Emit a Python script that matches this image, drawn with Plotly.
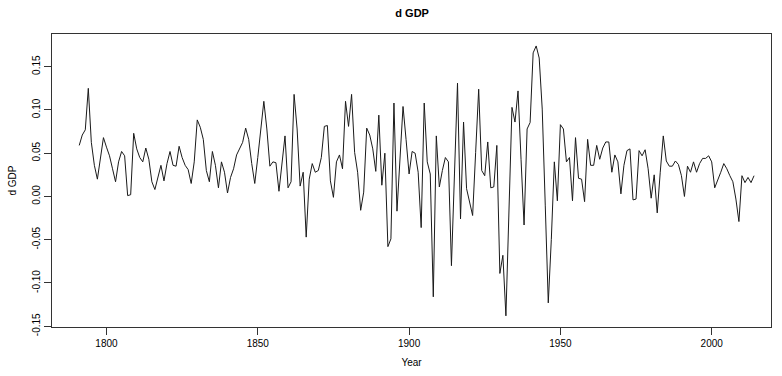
import plotly.graph_objects as go

first_year = 1791
last_year = 2014
years = list(range(first_year, last_year + 1))

d_gdp = [
    # 1791-1814
    0.059, 0.071, 0.077, 0.125, 0.0625, 0.036, 0.020, 0.043, 0.068, 0.057, 0.047, 0.032,
    0.017, 0.040, 0.052, 0.047, 0.001, 0.002, 0.073, 0.055, 0.045, 0.040, 0.056, 0.043,
    # 1815-1840
    0.017, 0.008, 0.024, 0.036, 0.018, 0.038, 0.052, 0.036, 0.035, 0.058, 0.045, 0.036, 0.031,
    0.015, 0.040, 0.0885, 0.080, 0.066, 0.030, 0.017, 0.052, 0.036, 0.010, 0.040, 0.028, 0.004,
    # 1841-1866
    0.022, 0.032, 0.048, 0.056, 0.0625, 0.079, 0.066, 0.038, 0.015, 0.045, 0.080, 0.110, 0.078,
    0.035, 0.040, 0.039, 0.006, 0.040, 0.070, 0.010, 0.017, 0.118, 0.078, 0.012, 0.028, -0.047,
    # 1867-1892
    0.020, 0.038, 0.028, 0.030, 0.045, 0.081, 0.082, 0.018, -0.001, 0.040, 0.048, 0.032, 0.110,
    0.081, 0.118, 0.051, 0.028, -0.016, 0.005, 0.079, 0.071, 0.055, 0.029, 0.094, 0.013, 0.050,
    # 1893-1918
    -0.058, -0.049, 0.108, -0.017, 0.043, 0.104, 0.066, 0.026, 0.052, 0.050, 0.028, -0.036, 0.108,
    0.040, 0.026, -0.116, 0.070, 0.011, 0.030, 0.045, 0.040, -0.080, 0.026, 0.131, -0.026, 0.086,
    # 1919-1944
    0.009, -0.006, -0.022, 0.051, 0.124, 0.030, 0.024, 0.063, 0.010, 0.011, 0.059, -0.089, -0.068,
    -0.138, -0.015, 0.103, 0.086, 0.122, 0.043, -0.033, 0.078, 0.0855, 0.166, 0.174, 0.160, 0.101,
    # 1945-1969
    -0.010, -0.123, -0.050, 0.040, -0.005, 0.083, 0.078, 0.040, 0.045, -0.005, 0.068, 0.021, 0.020,
    -0.006, 0.066, 0.036, 0.036, 0.059, 0.043, 0.056, 0.063, 0.063, 0.028, 0.048, 0.040,
    # 1970-1994
    0.003, 0.036, 0.053, 0.055, -0.004, -0.003, 0.053, 0.047, 0.054, 0.032, -0.002, 0.025, -0.019,
    0.028, 0.070, 0.041, 0.035, 0.035, 0.041, 0.037, 0.024, 0.000, 0.035, 0.028, 0.040,
    # 1995-2014
    0.028, 0.038, 0.044, 0.044, 0.047, 0.040, 0.010, 0.018, 0.028, 0.038, 0.032, 0.024, 0.017,
    -0.003, -0.029, 0.024, 0.016, 0.022, 0.016, 0.024,
]

x_ticks = [1800, 1850, 1900, 1950, 2000]
y_ticks = [-0.15, -0.10, -0.05, 0.00, 0.05, 0.10, 0.15]
y_tick_labels = ["-0.15", "-0.10", "-0.05", "0.00", "0.05", "0.10", "0.15"]

FONT = "Liberation Sans, Arial, sans-serif"

fig = go.Figure()
fig.add_trace(go.Scatter(
    x=years, y=d_gdp, mode="lines",
    line=dict(color="#1a1a1a", width=1),
    hoverinfo="x+y", showlegend=False,
))

fig.update_layout(
    width=782, height=376,
    margin=dict(l=52, r=10, t=34, b=47),
    paper_bgcolor="white", plot_bgcolor="white",
    font=dict(family=FONT, size=10, color="black"),
    title=dict(text="<b>d GDP</b>", x=0.527, xanchor="center", y=0.965, yanchor="middle",
               font=dict(family=FONT, size=11, color="black")),
)
fig.update_xaxes(
    range=[1782.0, 2019.6], showgrid=False, zeroline=False,
    showline=True, mirror=True, linecolor="#333", linewidth=1,
    ticks="outside", ticklen=7, tickcolor="#333", tickwidth=1,
    tickvals=x_ticks, ticktext=[str(t) for t in x_ticks],
    tickfont=dict(family=FONT, size=10),
    title=dict(text="Year", font=dict(family=FONT, size=10), standoff=10),
)
fig.update_yaxes(
    range=[-0.1509, 0.1878], showgrid=False, zeroline=False,
    showline=True, mirror=True, linecolor="#333", linewidth=1,
    ticks="outside", ticklen=7, tickcolor="#333", tickwidth=1,
    tickvals=y_ticks, ticktext=y_tick_labels, tickangle=-90,
    tickfont=dict(family=FONT, size=10),
    title=dict(text="d GDP", font=dict(family=FONT, size=10), standoff=12),
)

fig.write_html("out.html")
